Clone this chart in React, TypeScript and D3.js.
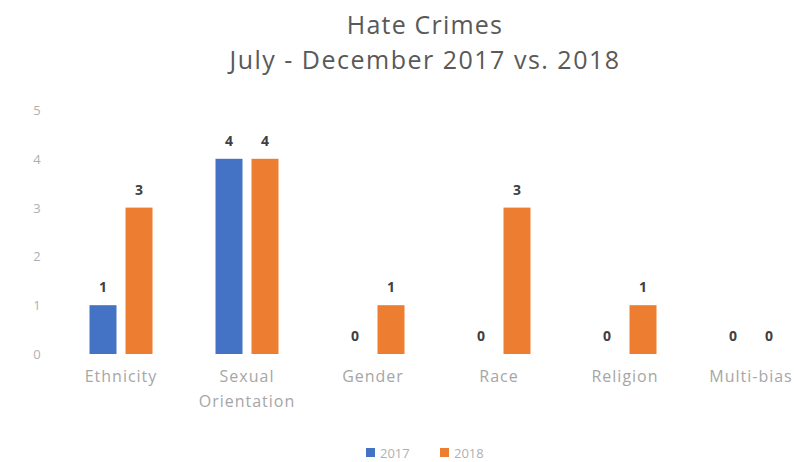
import React from "react";
import * as d3 from "d3";

const categories = ["Ethnicity", "Sexual|Orientation", "Gender", "Race", "Religion", "Multi-bias"];
const series2017 = [1, 4, 0, 0, 0, 0];
const series2018 = [3, 4, 1, 3, 1, 0];
const seriesNames = ["2017", "2018"];
const yTicks = [0, 1, 2, 3, 4, 5];
const colors = ["#4472C4", "#ED7D31"];

export default function App() {
  const W = 794, H = 462;
  const x = d3.scaleBand<string>().domain(categories).range([58, 814]).paddingInner(0).paddingOuter(0);
  const y = d3.scaleLinear().domain([0, 5]).range([354, 110]);
  const barW = 27;
  const gap = 9;
  const font = "'Open Sans', 'Liberation Sans', sans-serif";
  const data = [series2017, series2018];
  return (
    <svg width={W} height={H} style={{ position: "absolute", left: 0, top: 0, background: "#fff" }}>
      <text x={425} y={34} textAnchor="middle" fontFamily={font} fontSize={25} letterSpacing={1.2} fill="#595959">Hate Crimes</text>
      <text x={425} y={69} textAnchor="middle" fontFamily={font} fontSize={25} letterSpacing={1.5} fill="#595959">July - December 2017 vs. 2018</text>
      {yTicks.map((t) => (
        <text key={t} x={37} y={y(t) + 5} textAnchor="middle" fontFamily={font} fontSize={13} fill="#b0b0b0">{t}</text>
      ))}
      {categories.map((c, i) => {
        const cx = x(c)! + x.bandwidth() / 2;
        return (
          <g key={c}>
            {data.map((s, k) => {
              const bx = k === 0 ? cx - gap / 2 - barW : cx + gap / 2;
              const v = s[i];
              return (
                <g key={k}>
                  {v > 0 && (
                    <rect x={bx} y={y(v)} width={barW} height={y(0) - y(v)} fill={colors[k]} />
                  )}
                  <text x={bx + barW / 2} y={y(v) - 13} textAnchor="middle" fontFamily={font} fontSize={14} fontWeight="bold" fill="#404040">{v}</text>
                </g>
              );
            })}
            {c.split("|").map((line, j) => (
              <text key={j} x={cx} y={382 + j * 25} textAnchor="middle" fontFamily={font} fontSize={16} letterSpacing={1} fill="#a6a6a6">{line}</text>
            ))}
          </g>
        );
      })}
      {seriesNames.map((n, k) => (
        <g key={n}>
          <rect x={366 + k * 74} y={448} width={9} height={9} fill={colors[k]} />
          <text x={380 + k * 74} y={458} fontFamily={font} fontSize={13} fill="#b0b0b0">{n}</text>
        </g>
      ))}
    </svg>
  );
}
